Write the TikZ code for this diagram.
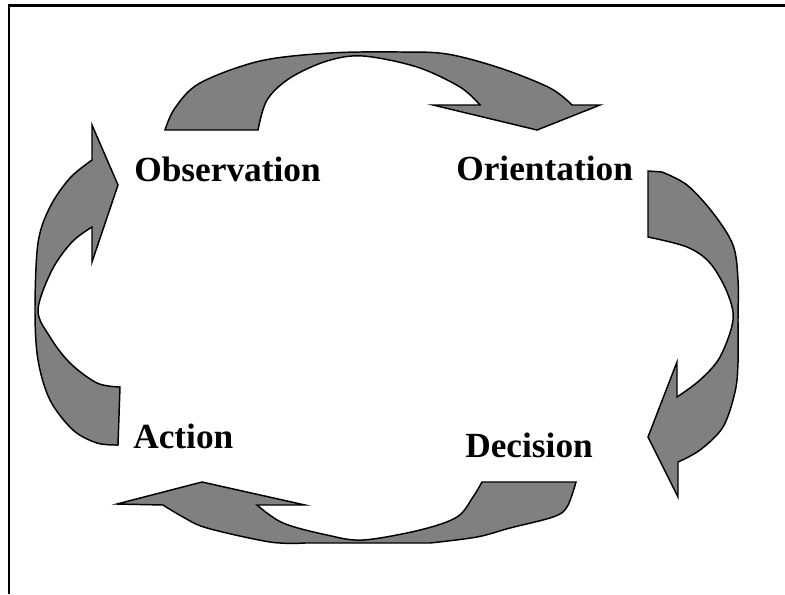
\documentclass[tikz,border=0pt]{standalone}
\usepackage{fontspec}
\setmainfont{Liberation Serif}
\usepackage{tikz}
\usetikzlibrary{positioning}
\definecolor{shade}{gray}{0.5}
\tikzstyle{bendarrow} = [fill=shade, draw=black, line width=1.1pt, line join=miter]
\tikzstyle{stage} = [anchor=base west, inner sep=0pt, font=\fontsize{26.5pt}{30pt}\selectfont\bfseries]
\tikzstyle{frame} = [draw=black, line width=1.8pt]
\def\tns{0.55}

\begin{document}
\begin{tikzpicture}[x=0.75pt, y=-0.75pt]
\useasboundingbox (0,0) rectangle (785,594);
\draw [frame] (9,594) -- (9,5.5) -- (785,5.5);

\node (obs) [stage] at (134,181) {Observation};
\node (ori) [stage] at (456,180) {Orientation};
\node (dec) [stage] at (465,457) {Decision};
\node (act) [stage] at (133,448) {Action};

% observation -> orientation
\filldraw [bendarrow] plot[smooth, tension=\tns] coordinates {(165,130) (175,108) (200,83) (260,61) (330,53) (400,52) (447,54) (500,68) (550,88) (572,105)}
  -- (600,105) -- (537,130) -- (433,105) -- (480,105)
  -- plot[smooth, tension=\tns] coordinates {(480,105) (460,87) (417,67) (363,56) (327,61) (290,78) (267,100) (258,130)} -- cycle;

% orientation -> decision
\filldraw [bendarrow] (648,171) -- plot[smooth, tension=\tns] coordinates {(662,172) (687,185) (713,213) (733,245) (738,280) (738,320) (738,363) (735,392) (723,427) (700,450) (678,462)}
  -- (678,497) -- (648,437) -- (677,362) -- (677,397)
  -- plot[smooth, tension=\tns] coordinates {(677,397) (700,380) (720,357) (733,320) (727,292) (710,263) (687,247) (648,237)} -- cycle;

% decision -> action
\filldraw [bendarrow] (482,482) -- plot[smooth, tension=\tns] coordinates {(576,482) (567,507) (553,517) (510,528) (477,537) (430,543)}
  -- plot[smooth, tension=\tns] coordinates {(305,543) (270,542) (207,528) (183,517) (163,505)}
  -- (117,504) -- (202,482) -- (305,505) -- (257,505)
  -- plot[smooth, tension=\tns] coordinates {(257,505) (283,523) (327,535) (363,540) (420,530) (457,517) (473,497) (482,482)} -- cycle;

% action -> observation
\filldraw [bendarrow] (118,185) -- (92,125) -- (92,160)
  -- plot[smooth, tension=\tns] coordinates {(92,160) (70,178) (50,207) (38,243) (35,310) (38,360) (50,400) (73,430) (97,443) (118,445)}
  -- (120,387)
  -- plot[smooth, tension=\tns] coordinates {(120,387) (97,383) (70,363) (50,337) (38,310) (52,270) (72,242) (92,227)}
  -- (92,262) -- cycle;
\end{tikzpicture}
\end{document}
